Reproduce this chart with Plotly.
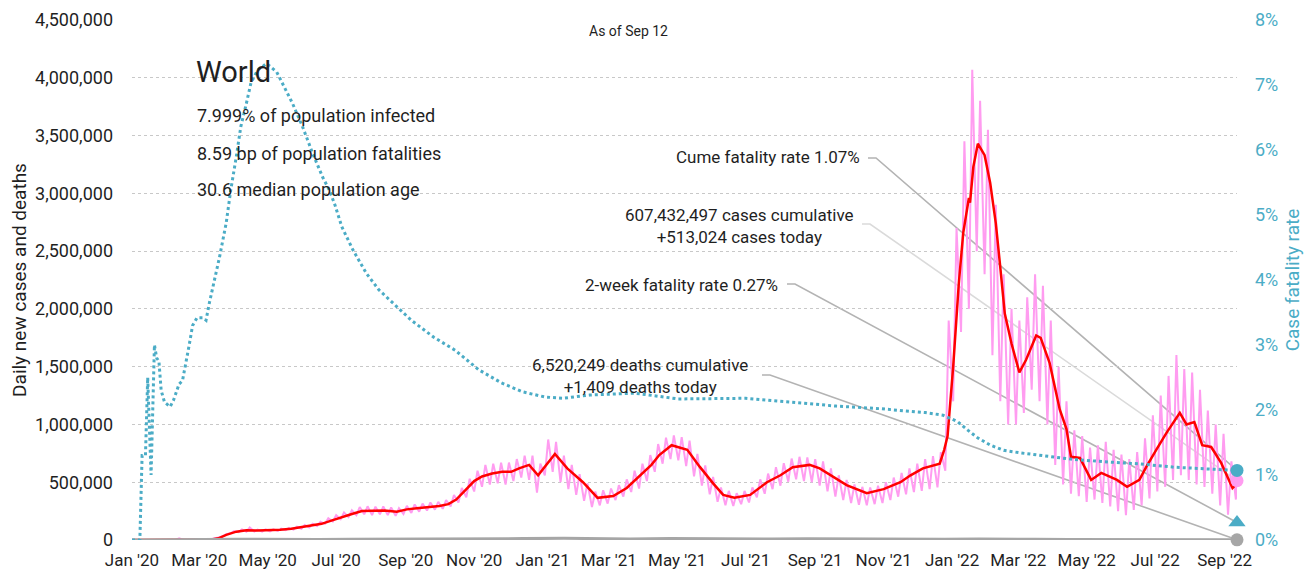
import pandas as pd
import plotly.graph_objects as go

# ---------------- data ----------------
# 7-day average of daily new cases (red)
avg_dates = [
    "2020-01-01", "2020-01-25", "2020-02-05", "2020-02-20", "2020-03-05", "2020-03-12", "2020-03-18",
    "2020-03-25", "2020-04-03", "2020-04-12", "2020-04-22", "2020-05-02", "2020-05-12", "2020-05-22",
    "2020-06-01", "2020-06-10", "2020-06-18", "2020-06-26", "2020-07-05", "2020-07-15", "2020-07-24",
    "2020-08-03", "2020-08-13", "2020-08-24", "2020-09-02", "2020-09-11", "2020-09-21", "2020-10-01",
    "2020-10-09", "2020-10-16", "2020-10-24", "2020-11-01", "2020-11-08", "2020-11-17", "2020-11-26",
    "2020-12-04", "2020-12-11", "2020-12-20", "2020-12-28", "2021-01-05", "2021-01-12", "2021-01-23",
    "2021-02-06", "2021-02-19", "2021-03-05", "2021-03-17", "2021-03-29", "2021-04-08", "2021-04-15",
    "2021-04-26", "2021-05-10", "2021-05-21", "2021-06-02", "2021-06-11", "2021-06-21", "2021-07-05",
    "2021-07-20", "2021-08-01", "2021-08-12", "2021-08-27", "2021-09-05", "2021-09-17", "2021-09-29",
    "2021-10-17", "2021-11-01", "2021-11-16", "2021-11-25", "2021-12-06", "2021-12-15", "2021-12-21",
    "2021-12-25", "2021-12-28", "2022-01-02", "2022-01-07", "2022-01-11", "2022-01-16", "2022-01-17",
    "2022-01-20", "2022-01-24", "2022-01-30", "2022-02-04", "2022-02-09", "2022-02-13", "2022-02-17",
    "2022-02-23", "2022-03-02", "2022-03-08", "2022-03-17", "2022-03-21", "2022-03-29", "2022-04-07",
    "2022-04-13", "2022-04-17", "2022-04-25", "2022-05-05", "2022-05-14", "2022-05-28", "2022-06-06",
    "2022-06-17", "2022-06-23", "2022-07-02", "2022-07-11", "2022-07-23", "2022-07-29", "2022-08-05",
    "2022-08-12", "2022-08-20", "2022-08-29", "2022-09-08", "2022-09-12",
]
avg_cases = [
    0, 1000, 3000, 2000, 2500, 5000, 15000,
    45000, 72000, 85000, 82000, 82000, 88000, 97000,
    112000, 128000, 140000, 165000, 195000, 225000, 250000,
    255000, 255000, 245000, 265000, 275000, 285000, 295000,
    310000, 350000, 430000, 510000, 550000, 575000, 590000,
    590000, 620000, 650000, 560000, 660000, 745000, 620000,
    500000, 365000, 380000, 450000, 560000, 650000, 735000,
    820000, 780000, 635000, 490000, 390000, 365000, 390000,
    500000, 560000, 630000, 650000, 620000, 545000, 475000,
    405000, 440000, 500000, 560000, 620000, 640000, 660000,
    780000, 900000, 1500000, 2220000, 2660000, 2960000, 2920000,
    3230000, 3430000, 3330000, 3090000, 2740000, 2360000, 1960000,
    1700000, 1450000, 1560000, 1770000, 1750000, 1530000, 1130000,
    960000, 720000, 710000, 520000, 580000, 520000, 460000,
    520000, 630000, 780000, 925000, 1100000, 1000000, 1020000,
    820000, 805000, 665000, 450000, 490000,
]

# daily new cases (pink), weekly lows (Sundays) and highs (Wednesdays), thousands
daily_week_start = "2020-01-05"
daily_lo_k = [
    0, 0, 0, 1, 3, 2, 2, 1, 2, 4, 12, 32, 58, 68, 72, 74, 72, 74, 78, 85,
    90, 98, 108, 122, 140, 160, 180, 198, 215, 222, 215, 222, 215, 210, 225, 235, 245, 255, 262, 270,
    290, 325, 370, 420, 460, 480, 490, 480, 510, 540, 520, 410, 560, 590, 500, 440, 390, 340, 285, 300,
    315, 345, 375, 415, 445, 510, 590, 660, 700, 690, 640, 550, 470, 395, 330, 300, 295, 310, 325, 370,
    400, 440, 470, 505, 525, 510, 500, 470, 420, 375, 345, 320, 305, 300, 310, 320, 345, 375, 395, 415,
    425, 440, 455, 600, 1200, 1800, 2000, 2500, 2300, 1600, 1200, 1000, 1000, 1100, 1300, 1200, 1000, 650, 480, 400,
    380, 330, 350, 320, 290, 250, 215, 260, 300, 360, 420, 460, 520, 560, 520, 480, 460, 400, 300, 220,
    350,
]
daily_hi_k = [
    0, 0, 1, 2, 4, 14, 2, 2, 3, 7, 22, 50, 78, 92, 108, 90, 92, 92, 98, 105,
    115, 130, 140, 158, 188, 215, 238, 258, 285, 292, 288, 290, 282, 275, 295, 308, 315, 325, 330, 345,
    390, 450, 530, 600, 650, 660, 670, 670, 700, 730, 730, 660, 870, 850, 730, 650, 570, 490, 420, 430,
    445, 475, 525, 600, 660, 735, 830, 885, 905, 890, 860, 745, 645, 545, 455, 425, 405, 425, 455, 525,
    575, 630, 665, 705, 720, 715, 700, 680, 620, 560, 520, 480, 460, 455, 470, 500, 540, 580, 620, 660,
    700, 725, 760, 1900, 2700, 3450, 4070, 3800, 3550, 2900, 2300, 2000, 1900, 2100, 2300, 2200, 1900, 1500, 1200, 950,
    900, 800, 820, 850, 780, 740, 700, 760, 880, 1080, 1250, 1420, 1600, 1480, 1450, 1300, 1120, 1000, 920, 680,
]

# daily deaths (grey, near zero on this scale)
death_dates = [
    "2020-01-01", "2020-02-01", "2020-03-01", "2020-03-20", "2020-04-05", "2020-04-18", "2020-05-15",
    "2020-06-15", "2020-07-15", "2020-08-15", "2020-09-15", "2020-10-15", "2020-11-15", "2020-12-15",
    "2021-01-20", "2021-02-20", "2021-03-20", "2021-04-25", "2021-05-25", "2021-06-25", "2021-07-25",
    "2021-08-25", "2021-09-25", "2021-10-25", "2021-11-25", "2021-12-25", "2022-01-25", "2022-02-15",
    "2022-03-15", "2022-04-15", "2022-05-15", "2022-06-15", "2022-07-15", "2022-08-15", "2022-09-12",
]
death_values = [
    0, 50, 100, 1500, 6000, 7500, 4800,
    4500, 5500, 6000, 5400, 6000, 10000, 12000,
    14500, 9500, 9500, 13500, 11000, 8000, 9000,
    10500, 8500, 7000, 7000, 6500, 9500, 11000,
    6500, 4000, 3000, 2000, 2500, 2500, 1409,
]

# cumulative case fatality rate, % (right axis)
cfr_dates = [
    "2020-01-01", "2020-01-08", "2020-01-10", "2020-01-13", "2020-01-15", "2020-01-18", "2020-01-21",
    "2020-01-23", "2020-01-25", "2020-01-27", "2020-01-30", "2020-02-04", "2020-02-07", "2020-02-12",
    "2020-02-15", "2020-02-18", "2020-02-21", "2020-02-24", "2020-02-28", "2020-03-04", "2020-03-07",
    "2020-03-10", "2020-03-14", "2020-03-19", "2020-03-25", "2020-03-29", "2020-04-03", "2020-04-07",
    "2020-04-12", "2020-04-16", "2020-04-22", "2020-04-30", "2020-05-09", "2020-05-14", "2020-05-23",
    "2020-06-01", "2020-06-10", "2020-06-19", "2020-06-25", "2020-06-30", "2020-07-06", "2020-07-16",
    "2020-07-28", "2020-08-08", "2020-08-21", "2020-09-06", "2020-09-26", "2020-10-15", "2020-11-05",
    "2020-11-25", "2020-12-14", "2021-01-03", "2021-01-19", "2021-02-12", "2021-03-24", "2021-05-02",
    "2021-07-01", "2021-08-10", "2021-09-20", "2021-10-29", "2021-12-08", "2021-12-24", "2022-01-06",
    "2022-01-15", "2022-01-24", "2022-02-04", "2022-02-16", "2022-03-03", "2022-03-18", "2022-04-01",
    "2022-04-19", "2022-05-20", "2022-06-18", "2022-07-18", "2022-08-17", "2022-09-05", "2022-09-12",
]
cfr_values = [
    0, 0, 1.3, 1.3, 2.5, 1.0, 3.0,
    2.8, 2.75, 2.3, 2.12, 2.05, 2.15, 2.4,
    2.45, 2.7, 3.0, 3.3, 3.42, 3.42, 3.38,
    3.65, 3.95, 4.35, 4.88, 5.38, 5.9, 6.36,
    6.72, 7.03, 7.23, 7.33, 7.2, 7.03, 6.72,
    6.36, 5.95, 5.58, 5.38, 5.15, 4.82, 4.46,
    4.10, 3.85, 3.64, 3.38, 3.12, 2.92, 2.62,
    2.42, 2.28, 2.20, 2.18, 2.23, 2.26, 2.17,
    2.18, 2.12, 2.06, 2.02, 1.96, 1.92, 1.82,
    1.69, 1.57, 1.46, 1.38, 1.34, 1.31, 1.28,
    1.24, 1.20, 1.17, 1.12, 1.09, 1.07, 1.07,
]

last_date = "2022-09-12"
cases_today = 513024
deaths_today = 1409
cume_cfr = 1.07
two_week_cfr = 0.27

tick_labels_fmt = "%b '%y"

# ---------------- build ----------------
FONT = "Roboto, Liberation Sans, sans-serif"
INK = "#1f1f1f"
PINK = "#ff9cf0"
RED = "#ff0000"
CYAN = "#4bacc6"
GREY = "#a6a6a6"

start = pd.Timestamp(daily_week_start)
daily_x, daily_y = [], []
for i, lo in enumerate(daily_lo_k):
    daily_x.append(start + pd.Timedelta(days=7 * i))
    daily_y.append(lo * 1000)
    if i < len(daily_hi_k):
        daily_x.append(start + pd.Timedelta(days=7 * i + 3))
        daily_y.append(daily_hi_k[i] * 1000)
daily_x.append(pd.Timestamp(last_date))
daily_y.append(cases_today)

Y_MAX = 4500000
Y2_MAX = 8

fig = go.Figure()
fig.add_trace(go.Scatter(x=daily_x, y=daily_y, mode="lines",
                         line=dict(color=PINK, width=2), hoverinfo="skip"))
fig.add_trace(go.Scatter(x=avg_dates, y=avg_cases, mode="lines",
                         line=dict(color=RED, width=2.5), hoverinfo="skip"))
fig.add_trace(go.Scatter(x=death_dates, y=death_values, mode="lines",
                         line=dict(color=GREY, width=3), hoverinfo="skip"))
fig.add_trace(go.Scatter(x=cfr_dates, y=cfr_values, mode="lines", yaxis="y2",
                         line=dict(color=CYAN, width=3, dash="dot"), hoverinfo="skip"))
# end markers
fig.add_trace(go.Scatter(x=[last_date], y=[deaths_today], mode="markers", cliponaxis=False,
                         marker=dict(color=GREY, size=13)))
fig.add_trace(go.Scatter(x=[last_date], y=[cases_today], mode="markers", cliponaxis=False,
                         marker=dict(color=PINK, size=13)))
fig.add_trace(go.Scatter(x=[last_date], y=[two_week_cfr], mode="markers", yaxis="y2", cliponaxis=False,
                         marker=dict(color=CYAN, size=15, symbol="triangle-up")))
fig.add_trace(go.Scatter(x=[last_date], y=[cume_cfr], mode="markers", yaxis="y2", cliponaxis=False,
                         marker=dict(color=CYAN, size=13)))

# page offset of the plot (browser body margin is 8px)
OFF = 8
W, H = 1304, 574
L, R, T, B = 124, 75, 12, 42
PW, PH = W - L - R, H - T - B
X0, Y1 = OFF + L, OFF + T + PH   # page pixel of plot left / bottom


def px(x):
    return (x - X0) / PW


def py(y):
    return (Y1 - y) / PH


annotations = []


def text(x, y, s, size, xanchor="left", color=INK, align="left"):
    annotations.append(dict(x=px(x), y=py(y), xref="paper", yref="paper", text=s, showarrow=False,
                            xanchor=xanchor, yanchor="middle", align=align,
                            font=dict(family=FONT, size=size, color=color)))


text(194, 72, "World", 29)
text(195, 115, "7.999% of population infected", 18)
text(195, 153, "8.59 bp of population fatalities", 18)
text(195, 190, "30.6 median population age", 18)
text(628, 31, "As of Sep 12", 14, xanchor="center")
text(862, 157, "Cume fatality rate 1.07%", 17, xanchor="right")
text(739, 226, "607,432,497 cases cumulative<br>+513,024 cases today", 17, xanchor="center", align="center")
text(780, 285, "2-week fatality rate 0.27%", 17, xanchor="right")
text(640, 376, "6,520,249 deaths cumulative<br>+1,409 deaths today", 17, xanchor="center", align="center")

shapes = []


def leader(x0, y0, target_frac, color):
    shapes.append(dict(type="path", xref="paper", yref="paper", layer="between",
                       path=f"M {px(x0)} {py(y0)} L {px(x0 + 8)} {py(y0)} L 1 {target_frac}",
                       line=dict(color=color, width=1.6)))


leader(868, 158, cume_cfr / Y2_MAX, "#b3b3b3")
leader(862, 224, cases_today / Y_MAX, "#dadada")
leader(787, 284, two_week_cfr / Y2_MAX, "#b3b3b3")
leader(762, 375, deaths_today / Y_MAX, "#b3b3b3")

fig.update_layout(
    width=W, height=H,
    margin=dict(l=L, r=R, t=T, b=B, pad=0, autoexpand=False),
    paper_bgcolor="white", plot_bgcolor="white",
    showlegend=False,
    font=dict(family=FONT, size=18, color=INK),
    annotations=annotations,
    shapes=shapes,
    xaxis=dict(type="date", range=["2020-01-01", last_date], tick0="2020-01-01", dtick="M2",
               tickformat=tick_labels_fmt, showgrid=False, zeroline=False, showline=False,
               ticks="", tickangle=0, automargin=False,
               tickfont=dict(family=FONT, size=17, color=INK), ticklabelstandoff=8),
    yaxis=dict(range=[0, Y_MAX], dtick=500000, tickformat=",", showgrid=True, gridcolor="#c8c8c8",
               griddash="dot", gridwidth=1, zeroline=False, showline=False, ticks="", automargin=False,
               tickfont=dict(family=FONT, size=18, color=INK), ticklabelstandoff=18,
               title=dict(text="Daily new cases and deaths", standoff=8,
                          font=dict(family=FONT, size=19, color=INK))),
    yaxis2=dict(range=[0, Y2_MAX], dtick=1, ticksuffix="%", overlaying="y", side="right",
                showgrid=False, zeroline=False, showline=False, ticks="", automargin=False,
                tickfont=dict(family=FONT, size=18, color=CYAN), ticklabelstandoff=17,
                title=dict(text="Case fatality rate", standoff=8,
                           font=dict(family=FONT, size=19, color=CYAN))),
)

fig.write_html("out.html")
